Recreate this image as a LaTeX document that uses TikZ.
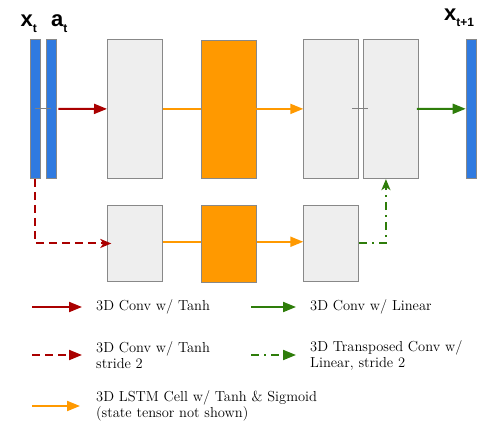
\documentclass[tikz,border=0pt]{standalone}
\usepackage{fontspec}
\newfontfamily\lab{Liberation Sans}
\usetikzlibrary{arrows.meta}
\definecolor{boxgray}{HTML}{EEEEEE}
\definecolor{edgegray}{HTML}{888888}
\definecolor{orng}{HTML}{FF9900}
\definecolor{blu}{HTML}{2F7AE0}
\definecolor{dred}{HTML}{AA0000}
\definecolor{dgreen}{HTML}{2E7D0A}
\tikzset{
  blk/.style={draw=edgegray, line width=0.9pt, fill=boxgray, minimum width=55pt, inner sep=0pt, anchor=north west},
  obox/.style={draw=edgegray, line width=0.9pt, fill=orng, minimum width=55pt, inner sep=0pt, anchor=north west},
  bar/.style={draw=edgegray, line width=0.7pt, fill=blu, minimum width=10pt, minimum height=139.5pt, inner sep=0pt, anchor=north west},
  tri/.style={-{Triangle[length=13pt,width=10pt]}},
  stl/.style={-{Stealth[length=11pt,width=9pt,inset=3pt]}},
  redl/.style={draw=dred, line width=2pt},
  grnl/.style={draw=dgreen, line width=2pt},
  orl/.style={draw=orng, line width=2pt},
  thin/.style={draw=gray, line width=0.9pt},
  lgt/.style={anchor=west, align=left, inner sep=0pt, text=black, font=\fontsize{14.5}{16}\selectfont},
  sym/.style={font=\lab\bfseries\fontsize{22}{22}\selectfont, inner sep=0pt}
}
\begin{document}
\begin{tikzpicture}[x=1pt,y=-1pt]
\useasboundingbox (0,0) rectangle (496,432);
% bars
\node[bar] (xt) at (30,38.7) {};
\node[bar] (at) at (45.7,38.7) {};
\node[bar] (xn) at (465.7,38.7) {};
% top row
\node[blk, minimum height=139.5pt] (b1) at (107,38.7) {};
\node[obox, minimum height=138pt] (o1) at (200.5,40) {};
\node[blk, minimum height=139.5pt] (b3) at (303.3,38.7) {};
\node[blk, minimum height=139.5pt] (b4) at (363,38.7) {};
% bottom row
\node[blk, minimum height=75.4pt] (lb1) at (107.3,205.3) {};
\node[obox, minimum height=77pt] (lo1) at (200.7,205.3) {};
\node[blk, minimum height=75.4pt] (lb3) at (303.3,205.3) {};
% labels
\node[sym, anchor=base east] (lxt) at (37,26) {x\raisebox{-6pt}{\fontsize{12}{12}\selectfont t}};
\node[sym, anchor=base west] (lat) at (51,26) {a\raisebox{-6pt}{\fontsize{12}{12}\selectfont t}};
\node[sym, anchor=base west] (lxn) at (444,20) {x\raisebox{-6pt}{\fontsize{12}{12}\selectfont t+1}};
% connectors
\draw[thin] (xt.center) -- (at.center);
\draw[redl, tri] ([xshift=2pt]at.east) -- (b1.west);
\draw[orl] (b1.east) -- (b1.east -| o1.west);
\draw[orl, tri] (o1.east |- b1.east) -- (b3.west);
\draw[thin] ([xshift=-7pt]b3.east) -- ([xshift=5pt]b4.west);
\draw[grnl, tri] ([xshift=-2pt]b4.east) -- (xn.west);
\draw[redl, stl, dashed, dash pattern=on 8pt off 5pt] (xt.south) |- ([xshift=4pt]lb1.west);
\draw[orl] ([yshift=1.7pt]lb1.east) -- ([yshift=1.7pt]lb1.east -| lo1.west);
\draw[orl, tri] ([yshift=1.7pt]lo1.east |- lb3.east) -- ([yshift=1.7pt]lb3.west);
\draw[grnl, stl, dash pattern=on 8pt off 5pt on 2pt off 5pt] (lb3.east) -| ([xshift=-5pt]b4.south);
% legend
\coordinate (r1a) at (32,307); \coordinate (r1b) at (82,307);
\coordinate (g1a) at (251,307); \coordinate (g1b) at (296,307);
\coordinate (r2a) at (32,355); \coordinate (r2b) at (82,355);
\coordinate (g2a) at (251,355); \coordinate (g2b) at (296,355);
\coordinate (o3a) at (32,406); \coordinate (o3b) at (80,406);
\draw[redl, tri] (r1a) -- (r1b);
\draw[grnl, tri] (g1a) -- (g1b);
\draw[redl, tri, dash pattern=on 8pt off 5pt] (r2a) -- (r2b);
\draw[grnl, tri, dash pattern=on 8pt off 5pt on 2pt off 5pt] (g2a) -- (g2b);
\draw[orl, tri] (o3a) -- (o3b);
\node[lgt] (t1) at (96,307) {3D Conv w/ Tanh};
\node[lgt] (t2) at (310,307) {3D Conv w/ Linear};
\node[lgt] (t3) at (96,355) {3D Conv w/ Tanh\\stride 2};
\node[lgt] (t4) at (310,355) {3D Transposed Conv w/\\Linear, stride 2};
\node[lgt] (t5) at (96,406) {3D LSTM Cell w/ Tanh \& Sigmoid\\(state tensor not shown)};
\end{tikzpicture}
\end{document}
